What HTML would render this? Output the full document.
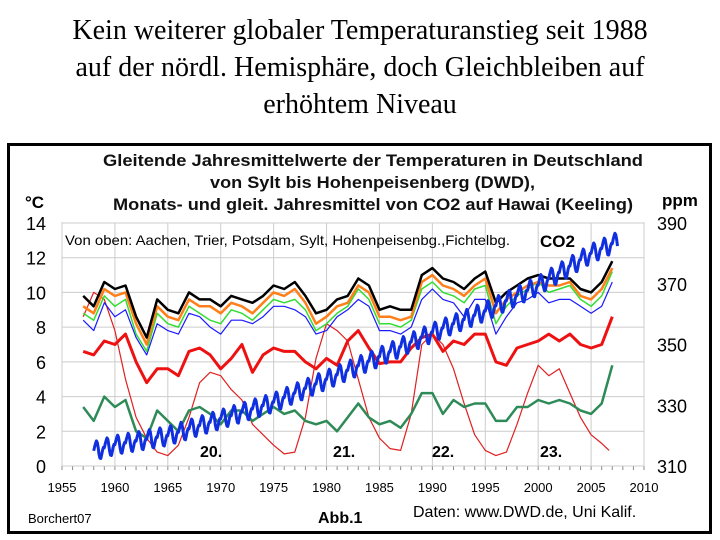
<!DOCTYPE html>
<html><head><meta charset="utf-8"><style>
body{margin:0;width:720px;height:540px;background:#fff;overflow:hidden;font-family:"Liberation Sans",sans-serif}
#ttl{position:absolute;left:0;top:12px;width:720px;text-align:center;font-family:"Liberation Serif",serif;font-size:28px;line-height:37px;color:#000}
svg{position:absolute;left:0;top:0}
</style></head><body>
<div id="ttl">Kein weiterer globaler Temperaturanstieg seit 1988<br>auf der nördl. Hemisphäre, doch Gleichbleiben auf<br>erhöhtem Niveau</div>
<svg id="c" width="720" height="540">
<rect x="8.5" y="144.5" width="702" height="388" fill="none" stroke="#000" stroke-width="3"/>
<g font-weight="bold" font-size="17" fill="#111">
<text x="103" y="166" textLength="540" lengthAdjust="spacingAndGlyphs">Gleitende Jahresmittelwerte der Temperaturen in Deutschland</text>
<text x="210" y="188" textLength="325" lengthAdjust="spacingAndGlyphs">von Sylt bis Hohenpeisenberg (DWD),</text>
<text x="113" y="210" textLength="520" lengthAdjust="spacingAndGlyphs">Monats-  und gleit. Jahresmittel von CO2 auf Hawai (Keeling)</text>
</g>
<text x="25" y="208" font-weight="bold" font-size="17">°C</text>
<text x="662" y="206" font-weight="bold" font-size="17">ppm</text>
<g id="grid"></g><g id="ticks"></g><g id="series"></g>
<text x="65" y="245" font-size="14" textLength="445" lengthAdjust="spacingAndGlyphs">Von oben: Aachen, Trier, Potsdam, Sylt, Hohenpeisenbg.,Fichtelbg.</text>
<text x="540" y="247" font-size="17" font-weight="bold">CO2</text>
<g font-size="16" font-weight="bold">
<text x="200" y="457">20.</text><text x="333" y="457">21.</text><text x="432" y="457">22.</text><text x="540" y="457">23.</text>
</g>
<text x="28" y="523" font-size="13">Borchert07</text>
<text x="318" y="523" font-size="16" font-weight="bold">Abb.1</text>
<text x="413" y="517" font-size="16">Daten: www.DWD.de, Uni Kalif.</text>
</svg>
<script>
const years=[];for(let y=1957;y<=2007;y++)years.push(y);
const aachen=[9.8,9.2,10.6,10.2,10.4,8.6,7.4,9.6,9.0,8.8,10.0,9.6,9.6,9.2,9.8,9.6,9.4,9.8,10.4,10.2,10.6,9.8,8.8,9.0,9.6,9.8,10.8,10.4,9.0,9.2,9.0,9.0,11.0,11.4,10.8,10.6,10.2,10.8,11.2,9.4,10.0,10.4,10.8,11.0,10.8,10.8,10.8,10.2,10.0,10.6,11.8];
const trier=[9.2,8.8,10.2,9.8,10.0,8.2,7.0,9.2,8.6,8.4,9.6,9.2,9.2,8.8,9.4,9.2,8.8,9.4,10.0,9.8,10.2,9.4,8.2,8.6,9.2,9.4,10.4,10.0,8.6,8.6,8.4,8.6,10.6,11.0,10.4,10.2,9.8,10.4,10.8,8.8,9.6,10.0,10.4,10.6,10.4,10.4,10.6,9.8,9.6,10.2,11.4];
const potsdam=[8.8,8.4,9.8,9.2,9.6,7.6,6.6,8.8,8.2,8.0,9.2,8.8,8.4,8.2,9.0,8.8,8.4,9.0,9.6,9.4,9.6,9.0,7.8,8.2,8.8,9.2,10.2,9.6,8.2,8.2,8.0,8.4,10.2,10.6,10.0,9.8,9.4,10.2,10.4,8.2,9.2,9.8,10.2,10.6,10.0,10.2,10.4,9.6,9.2,9.8,11.2];
const sylt=[8.4,7.8,9.4,8.6,9.0,7.4,6.4,8.2,7.8,7.6,8.8,8.6,8.0,7.6,8.4,8.4,8.2,8.6,9.2,9.2,9.0,8.6,7.6,7.8,8.6,9.0,9.6,9.2,7.8,7.8,7.6,8.0,9.6,10.2,9.6,9.4,8.6,9.6,9.6,7.6,8.6,9.4,9.6,10.0,9.4,9.6,9.6,9.2,8.8,9.2,10.6];
const hohenp=[6.6,6.4,7.2,7.0,7.6,6.0,4.8,5.6,5.6,5.2,6.6,6.8,6.4,5.6,6.2,7.0,5.4,6.4,6.8,6.6,6.6,6.0,5.6,6.2,5.8,7.2,7.8,6.8,5.9,6.0,6.0,6.8,7.4,7.6,6.6,7.2,7.0,7.6,7.6,6.0,5.8,6.8,7.0,7.2,7.6,7.2,7.6,7.0,6.8,7.0,8.6];
const fichtel=[3.4,2.6,4.0,3.4,3.8,2.0,1.6,3.2,2.6,2.0,3.2,3.4,3.0,2.4,3.2,3.2,2.6,3.0,3.4,3.0,3.2,2.6,2.4,2.6,2.0,2.8,3.6,2.8,2.4,2.6,2.2,3.0,4.2,4.2,3.0,3.8,3.4,3.6,3.6,2.6,2.6,3.4,3.4,3.8,3.6,3.8,3.6,3.2,3.0,3.6,5.8];
const sunYears=[1957,1958,1959,1960,1961,1962,1963,1964,1965,1966,1967,1968,1969,1970,1971,1972,1973,1974,1975,1976,1977,1978,1979,1980,1981,1982,1983,1984,1985,1986,1987,1988,1989,1990,1991,1992,1993,1994,1995,1996,1997,1998,1999,2000,2001,2002,2003,2004,2005,2006,2006.7];
const sunspots=[8.6,10.0,9.6,7.8,5.0,2.8,1.6,0.8,0.6,1.2,2.8,4.8,5.4,5.2,4.4,3.8,2.4,1.8,1.2,0.7,0.8,2.8,6.2,8.2,7.8,7.2,5.0,2.8,1.6,1.0,0.9,3.0,7.0,7.6,7.0,5.6,3.6,1.8,0.9,0.6,0.8,2.4,4.2,5.8,5.2,5.6,4.2,2.8,1.8,1.3,0.9];
const co2Years=[1958,1960,1965,1970,1975,1980,1985,1990,1995,2000,2005,2007.5];
const co2=[315,317,320,325.5,331,338.5,346,354,361,369.5,380,384];
const co2Season=[0,1.2,2.2,3,2.4,0.6,-1.6,-3,-3.2,-2,-0.6,0.2];
const yTicks=[0,2,4,6,8,10,12,14];
const ppmTicks=[310,330,350,370,390];
const xTicks=[1955,1960,1965,1970,1975,1980,1985,1990,1995,2000,2005,2010];

const X0=62,X1=644,Y0=466,Y1=223;
const xs=v=>X0+(v-1955)/55*(X1-X0);
const ys=v=>Y0-v/14*(Y0-Y1);
const yp=v=>Y0-(v-310)/80*(Y0-Y1);
const NS="http://www.w3.org/2000/svg";
function mk(p,t,a){const e=document.createElementNS(NS,t);for(const k in a)e.setAttribute(k,a[k]);p.appendChild(e);return e;}
const grid=document.getElementById('grid'),tk=document.getElementById('ticks'),sr=document.getElementById('series');
mk(grid,'rect',{x:X0,y:Y1,width:X1-X0,height:Y0-Y1,fill:'#fff',stroke:'#888','stroke-width':1});
xTicks.forEach(v=>{const l=mk(grid,'line',{x1:xs(v),x2:xs(v),y1:Y1,y2:Y0,stroke:'#ccc'});

const t=mk(tk,'text',{x:xs(v),y:492,'font-size':13,'text-anchor':'middle'});t.textContent=v;
});
for(let v=1955;v<=2010;v++){mk(grid,'line',{x1:xs(v),x2:xs(v),y1:Y0,y2:Y0+4,stroke:'#888'});}
yTicks.forEach(v=>{const l=mk(grid,'line',{x1:X0,x2:X1,y1:ys(v),y2:ys(v),stroke:'#ccc'});

const t=mk(tk,'text',{x:46,y:ys(v)+7,'font-size':18,'text-anchor':'end'});t.textContent=v;
});
ppmTicks.forEach(v=>{const t=mk(tk,'text',{x:657,y:yp(v)+7,'font-size':18});t.textContent=v;
});
function line(xv,yv,sy,color,w,name){
 const d=xv.map((x,i)=>(i?'L':'M')+xs(x).toFixed(1)+','+sy(yv[i]).toFixed(1)).join('');
 const p=mk(sr,'path',{d:d,fill:'none',stroke:color,'stroke-width':w,'stroke-linejoin':'round'});
 }
line(sunYears,sunspots,ys,'#e02020',1.2,'sunspot-line');
line(years,fichtel,ys,'#2e8b57',2.5,'fichtelberg-line');
line(years,hohenp,ys,'#ee1111',3,'hohenpeissenberg-line');
line(years,sylt,ys,'#1a1aff',1.2,'sylt-line');
line(years,potsdam,ys,'#33dd33',1.5,'potsdam-line');
line(years,trier,ys,'#ff7f1a',2.5,'trier-line');
line(years,aachen,ys,'#000',2.5,'aachen-line');
const cx=[],cy=[];
for(let i=0;i<co2Years.length-1;i++){const a=co2Years[i],b=co2Years[i+1];
 for(let t=a;t<b;t+=1/12){const m=Math.round((t-Math.floor(t))*12)%12;
  cx.push(t);cy.push(co2[i]+(co2[i+1]-co2[i])*(t-a)/(b-a)+co2Season[m]);}}
line(cx,cy,yp,'#1030e0',3,'co2-line');
</script>
</body></html>
